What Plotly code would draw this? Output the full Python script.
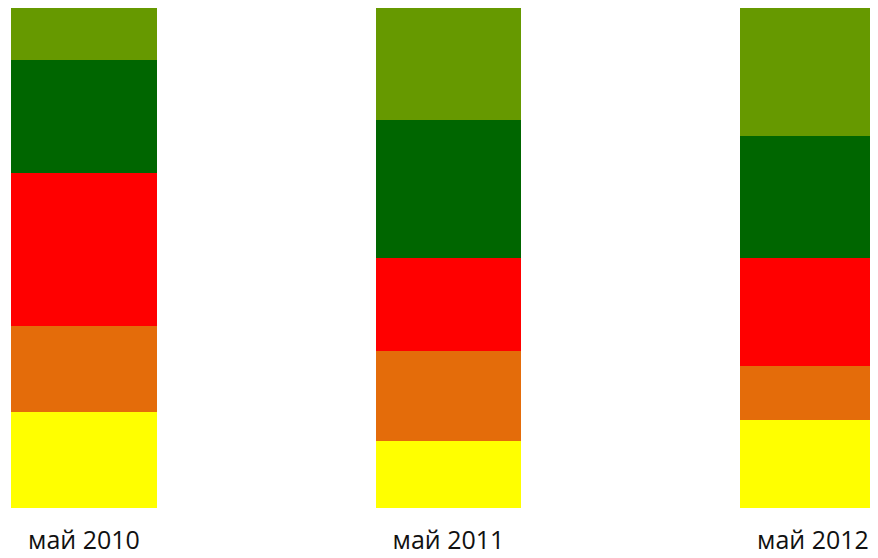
import plotly.graph_objects as go

categories = ["май 2010", "май 2011", "май 2012"]
x_pos = [0, 1, 2]

# stacked from bottom to top (percent shares)
yellow = [19.3, 13.4, 17.6]
orange = [17.1, 18.0, 10.9]
red = [30.6, 18.7, 21.6]
dark_green = [22.7, 27.5, 24.3]
light_green = [10.3, 22.4, 25.6]

series = [
    ("yellow", yellow, "#FFFF00"),
    ("orange", orange, "#E46C0A"),
    ("red", red, "#FF0000"),
    ("dark green", dark_green, "#006600"),
    ("light green", light_green, "#669900"),
]

fig = go.Figure()
for name, vals, color in series:
    fig.add_trace(go.Bar(
        x=x_pos, y=vals, name=name, width=0.4,
        marker=dict(color=color, line=dict(width=0)),
        hoverinfo="skip",
    ))

fig.update_layout(
    barmode="stack",
    width=870, height=550,
    margin=dict(l=0, r=0, t=0, b=50),
    paper_bgcolor="white", plot_bgcolor="white",
    showlegend=False,
    font=dict(family="Open Sans", size=25, color="#111111"),
    xaxis=dict(
        range=[-0.2085, 2.1784],
        tickmode="array", tickvals=x_pos, ticktext=categories,
        showgrid=False, zeroline=False, showline=False,
        ticks="outside", ticklen=10, tickcolor="rgba(0,0,0,0)",
        fixedrange=True,
    ),
    yaxis=dict(
        range=[0, 100], visible=False, showgrid=False, zeroline=False,
    ),
)

fig.write_html("out.html")
